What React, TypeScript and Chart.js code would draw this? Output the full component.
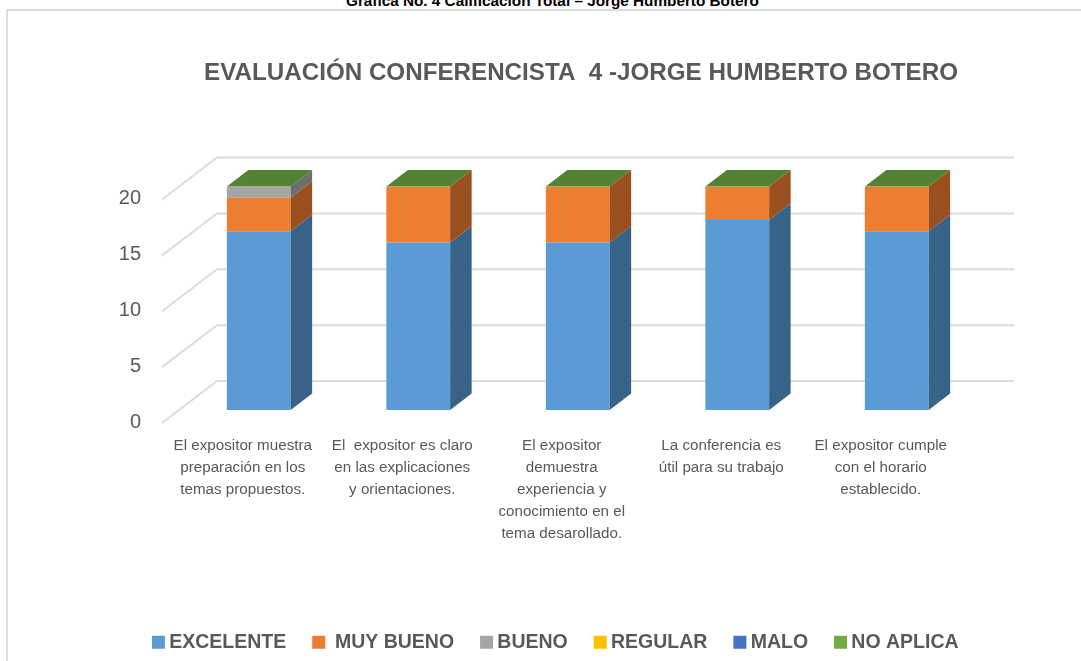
import React, { useEffect, useRef } from "react";
import { Chart, registerables } from "chart.js";

Chart.register(...registerables);

const caption = "Gráfica No. 4 Calificación Total – Jorge Humberto Botero";
const chartTitle = "EVALUACIÓN CONFERENCISTA  4 -JORGE HUMBERTO BOTERO";
const categories = [
  ["El expositor muestra", "preparación en los", "temas propuestos."],
  ["El  expositor es claro", "en las explicaciones", "y orientaciones."],
  ["El expositor", "demuestra", "experiencia y", "conocimiento en el", "tema desarollado."],
  ["La conferencia es", "útil para su trabajo"],
  ["El expositor cumple", "con el horario", "establecido."],
];
const excelente = [16, 15, 15, 17, 16];
const muyBueno = [3, 5, 5, 3, 4];
const bueno = [1, 0, 0, 0, 0];
const regular = [0, 0, 0, 0, 0];
const malo = [0, 0, 0, 0, 0];
const noAplica = [0, 0, 0, 0, 0];

const TEXT = "#595959";
const GRID = "#dcdcdc";
const FONT = "'Liberation Sans', Arial, sans-serif";
const DX = 21.5;
const DY = 16.5;

const seriesDefs = [
  { label: "EXCELENTE", data: excelente, color: "#5B9BD5", side: "#386388", top: "#386388" },
  { label: " MUY BUENO", data: muyBueno, color: "#ED7D31", side: "#99501E", top: "#99501E" },
  { label: "BUENO", data: bueno, color: "#A5A5A5", side: "#6E6E6E", top: "#6E6E6E" },
  { label: "REGULAR", data: regular, color: "#FFC000", side: "#A67C00", top: "#A67C00" },
  { label: "MALO", data: malo, color: "#4472C4", side: "#2C4A80", top: "#2C4A80" },
  { label: "NO APLICA", data: noAplica, color: "#70AD47", side: "#48702E", top: "#548235" },
];

const floorPlugin = {
  id: "floorPlugin",
  afterLayout(chart: any) {
    if (chart.titleBlock) {
      const shift = 581 - (chart.titleBlock.left + chart.titleBlock.right) / 2;
      chart.titleBlock.left += shift;
      chart.titleBlock.right += shift;
    }
    if (chart.legend) {
      const shift = 558 - (chart.legend.left + chart.legend.right) / 2;
      chart.legend.left += shift;
      chart.legend.right += shift;
      chart.legend.top += 1;
      chart.legend.bottom += 1;
    }
  },
  beforeDatasetsDraw(chart: any) {
    const { ctx, chartArea, scales } = chart;
    const backLeft = chartArea.left + 38;
    const backRight = chartArea.right + 37.5;
    ctx.save();
    ctx.strokeStyle = GRID;
    ctx.lineWidth = 2;
    scales.y.ticks.forEach((t: any) => {
      const yb = scales.y.getPixelForValue(t.value) - 29;
      ctx.beginPath();
      ctx.moveTo(backRight, yb);
      ctx.lineTo(backLeft, yb);
      ctx.lineTo(backLeft - 55, yb + 42);
      ctx.stroke();
    });
    ctx.restore();
  },
  afterDatasetsDraw(chart: any) {
    const { ctx } = chart;
    ctx.save();
    seriesDefs.forEach((s, di) => {
      const meta = chart.getDatasetMeta(di);
      meta.data.forEach((bar: any) => {
        if (Math.abs(bar.base - bar.y) < 0.01) return;
        const x = bar.x + bar.width / 2;
        ctx.fillStyle = s.side;
        ctx.beginPath();
        ctx.moveTo(x, bar.y);
        ctx.lineTo(x + DX, bar.y - DY);
        ctx.lineTo(x + DX, bar.base - DY);
        ctx.lineTo(x, bar.base);
        ctx.closePath();
        ctx.fill();
      });
    });
    const lastIndex = seriesDefs.length - 1;
    chart.getDatasetMeta(lastIndex).data.forEach((bar: any) => {
      const l = bar.x - bar.width / 2;
      const r = bar.x + bar.width / 2;
      ctx.fillStyle = seriesDefs[lastIndex].top;
      ctx.beginPath();
      ctx.moveTo(l, bar.y);
      ctx.lineTo(r, bar.y);
      ctx.lineTo(r + DX, bar.y - DY);
      ctx.lineTo(l + DX, bar.y - DY);
      ctx.closePath();
      ctx.fill();
    });
    ctx.restore();
  },
};

export default function App() {
  const ref = useRef<HTMLCanvasElement | null>(null);
  useEffect(() => {
    if (!ref.current) return;
    const chart = new Chart(ref.current, {
      type: "bar",
      data: {
        labels: categories as any,
        datasets: seriesDefs.map((s) => ({
          label: s.label,
          data: s.data,
          backgroundColor: s.color,
          borderWidth: 0,
          categoryPercentage: 1,
          barPercentage: 0.4,
        })),
      },
      options: {
        responsive: false,
        animation: false,
        layout: { padding: { left: 0, right: 104.5, top: 0, bottom: 0 } },
        plugins: {
          tooltip: { enabled: false },
          title: {
            display: true,
            text: chartTitle,
            color: TEXT,
            font: { family: FONT, size: 24.2, weight: "bold", lineHeight: 1.2 },
            padding: { top: 58.5, bottom: 99 },
          },
          legend: {
            position: "bottom",
            labels: {
              color: TEXT,
              font: { family: FONT, size: 19.5, weight: "bold" },
              usePointStyle: true,
              pointStyle: "rect",
              boxHeight: 13,
              boxWidth: 2,
              padding: 31.5,
            },
          },
        },
        scales: {
          x: {
            stacked: true,
            border: { display: false },
            grid: { display: false },
            afterFit(s: any) {
              s.height = 661 - s.chart.legend.height - 410;
            },
            ticks: {
              color: TEXT,
              autoSkip: false,
              maxRotation: 0,
              minRotation: 0,
              padding: 17,
              labelOffset: -16,
              font: { family: FONT, size: 15.2, lineHeight: 1.45 },
            },
          },
          y: {
            stacked: true,
            min: 0,
            max: 20,
            border: { display: false },
            grid: { display: false },
            afterFit(s: any) {
              s.width = 179;
            },
            ticks: {
              stepSize: 5,
              color: TEXT,
              padding: 30,
              labelOffset: 12,
              font: { family: FONT, size: 20 },
            },
          },
        },
      } as any,
      plugins: [floorPlugin],
    });
    return () => chart.destroy();
  }, []);

  return (
    <div style={{ position: "fixed", left: 0, top: 0, width: 1081, height: 661, overflow: "hidden", background: "#fff" }}>
      <div
        style={{
          position: "absolute",
          left: 6,
          top: 9,
          right: -4,
          bottom: -4,
          borderTop: `2px solid ${GRID}`,
          borderLeft: `2px solid ${GRID}`,
        }}
      />
      <div
        style={{
          position: "absolute",
          left: 346,
          top: -8,
          whiteSpace: "nowrap",
          font: `bold 15.3px ${FONT}`,
          color: "#000",
        }}
      >
        {caption}
      </div>
      <canvas ref={ref} width={1081} height={661} style={{ position: "absolute", left: 0, top: 0 }} />
    </div>
  );
}
